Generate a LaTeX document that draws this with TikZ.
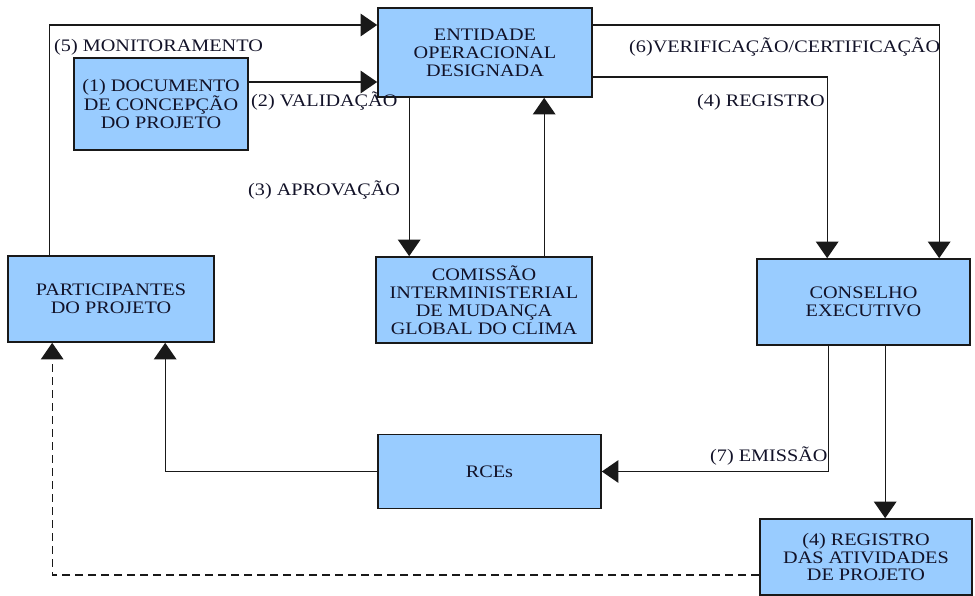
\documentclass[tikz,border=0pt]{standalone}
\usepackage{fontspec}
\setmainfont{Liberation Serif}[FakeStretch=1.15]
\usepackage{xcolor}
\usetikzlibrary{arrows.meta,positioning,calc}

\definecolor{boxblue}{RGB}{153,204,255}
\definecolor{inkdark}{RGB}{18,18,40}
\newcommand{\px}{0.03cm}

\begin{document}
\begin{tikzpicture}[
    x=0.03cm, y=-0.03cm,
    font=\fontsize{15}{15.3}\selectfont,
    block/.style={rectangle, draw=black!90, line width=1.4pt, fill=boxblue, text=inkdark, align=center, inner sep=0pt},
    lbl/.style={text=inkdark, inner sep=0pt, anchor=west},
    arrow/.style={-{Triangle[length=0.5cm, width=0.68cm]}, line width=1.1pt, draw=black!90},
    link/.style={line width=1.1pt, draw=black!90}
]
    \useasboundingbox (0,0) rectangle (975,596);

    \node (eod) [block, minimum width=214*\px, minimum height=89*\px] at (485,52.5) {ENTIDADE\\OPERACIONAL\\DESIGNADA};
    \node (dcp) [block, minimum width=174*\px, minimum height=92*\px] at (161,104) {(1) DOCUMENTO\\DE CONCEPÇÃO\\DO PROJETO};
    \node (pp) [block, minimum width=206*\px, minimum height=86*\px] at (111,299) {PARTICIPANTES\\DO PROJETO};
    \node (cim) [block, minimum width=216*\px, minimum height=86*\px] at (484,300) {COMISSÃO\\INTERMINISTERIAL\\DE MUDANÇA\\GLOBAL DO CLIMA};
    \node (ce) [block, minimum width=213*\px, minimum height=86*\px] at (863.5,302) {CONSELHO\\EXECUTIVO};
    \node (rce) [block, minimum width=223*\px, minimum height=74*\px] at (489.5,471.5) {RCEs};
    \node (reg) [block, minimum width=212*\px, minimum height=76*\px] at (866,557) {(4) REGISTRO\\DAS ATIVIDADES\\DE PROJETO};

    % labels
    \node (lmon) [lbl] at (54,47) {(5) MONITORAMENTO};
    \node (lval) [lbl] at (251,101) {(2) VALIDAÇÃO};
    \node (lapr) [lbl] at (248,190) {(3) APROVAÇÃO};
    \node (lver) [lbl] at (629,47) {(6)VERIFICAÇÃO/CERTIFICAÇÃO};
    \node (lreg) [lbl] at (697,102) {(4) REGISTRO};
    \node (lemi) [lbl] at (710,456) {(7) EMISSÃO};

    % connectors
    \draw [arrow] ($(pp.north west)+(42,0)$) |- ($(eod.west)+(0,-27.5)$);
    \draw [link] ($(dcp.south)+(5,0)$) -- ($(dcp.south)+(5,0)$ |- pp.north);
    \draw [arrow] ($(dcp.east)+(0,-22)$) coordinate (v) -- (v -| eod.west);
    \draw [arrow] ($(eod.south west)+(32,0)$) coordinate (a) -- (a |- cim.north);
    \draw [arrow] ($(cim.north west)+(169,0)$) coordinate (b) -- (b |- eod.south);
    \draw [arrow] ($(eod.east)+(0,-27.5)$) -| ($(ce.north west)+(183,0)$);
    \draw [arrow] ($(eod.east)+(0,24.5)$) -| ($(ce.north west)+(71,0)$);
    \draw [arrow] ($(ce.south west)+(72,0)$) |- (rce.east);
    \draw [arrow] ($(ce.south west)+(129,0)$) coordinate (c) -- (c |- reg.north);
    \draw [arrow] (rce.west) -| ($(pp.south west)+(158,0)$);
    \draw [arrow, dash pattern=on 0.24cm off 0.15cm, line width=0.9pt] ($(reg.west)+(0,18)$) -| ($(pp.south west)+(45,0)$);
\end{tikzpicture}
\end{document}
